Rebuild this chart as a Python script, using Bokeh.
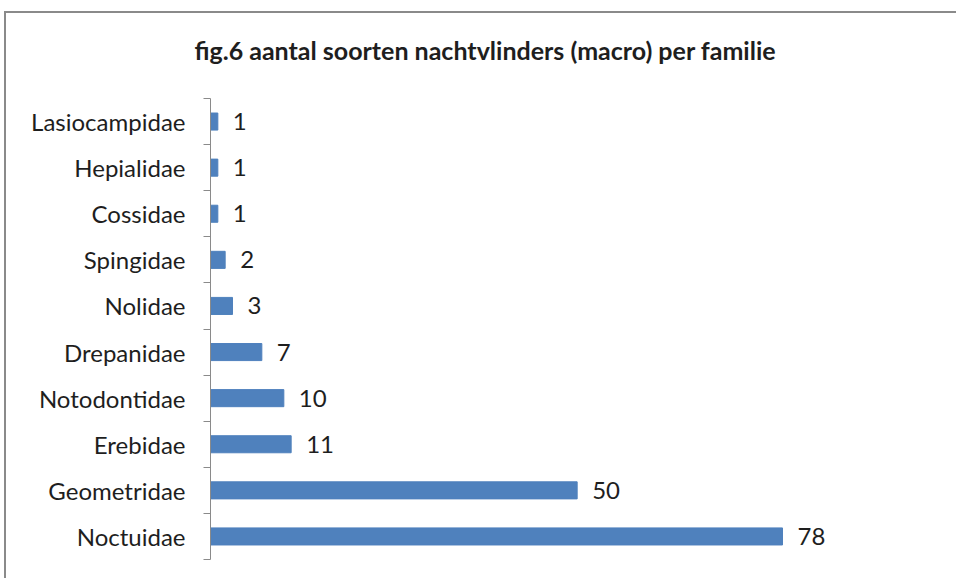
from bokeh.plotting import figure
from bokeh.models import ColumnDataSource, FixedTicker, Title
from bokeh.core.properties import value
from bokeh.embed import file_html
from bokeh.resources import INLINE

families = ["Noctuidae", "Geometridae", "Erebidae", "Notodontidae", "Drepanidae",
            "Nolidae", "Spingidae", "Cossidae", "Hepialidae", "Lasiocampidae"]
counts = [78, 50, 11, 10, 7, 3, 2, 1, 1, 1]
title_text = "fig.6 aantal soorten nachtvlinders (macro) per familie"

ypos = [i + 0.5 for i in range(len(families))]
src = ColumnDataSource(dict(y=ypos, v=counts, lab=[str(c) for c in counts]))

FONT = "Lato"
TXT = "#1e1e1e"
GRAY = "#8a8a8a"

p = figure(width=952, height=567, output_backend="svg", toolbar_location=None,
           x_range=(0, 90), y_range=(0, len(families)),
           x_axis_location=None, min_border_left=204, min_border_right=88,
           min_border_top=85, min_border_bottom=21)
p.styles = {"margin-left": "4px", "margin-top": "11px",
            "border-left": f"2px solid {GRAY}", "border-top": f"2px solid {GRAY}",
            "box-sizing": "border-box"}
p.outline_line_color = None
p.grid.visible = False
p.background_fill_color = "white"
p.border_fill_color = "white"

t = Title(text=title_text + "\n ", align="left", offset=-16, text_font=FONT,
          text_font_size="25px", text_font_style="bold", text_color=TXT,
          standoff=8)
p.add_layout(t, "above")

p.hbar(y="y", right="v", left=0, height=0.37, source=src,
       fill_color="#4F81BD", line_color="#4F81BD")
p.text(x="v", y="y", text="lab", source=src, x_offset=15,
       text_align="left", text_baseline="middle", text_font=value(FONT),
       text_font_size="24px", text_color=TXT)

ax = p.yaxis[0]
ax.ticker = FixedTicker(ticks=ypos, minor_ticks=list(range(len(families) + 1)))
ax.major_label_overrides = {y: f for y, f in zip(ypos, families)}
ax.major_tick_out = 0
ax.major_tick_in = 0
ax.minor_tick_out = 7
ax.minor_tick_in = 0
ax.minor_tick_line_color = GRAY
ax.axis_line_color = GRAY
ax.major_label_standoff = 18
ax.major_label_text_font = FONT
ax.major_label_text_font_size = "24px"
ax.major_label_text_color = TXT

open("out.html", "w").write(file_html(p, INLINE))
